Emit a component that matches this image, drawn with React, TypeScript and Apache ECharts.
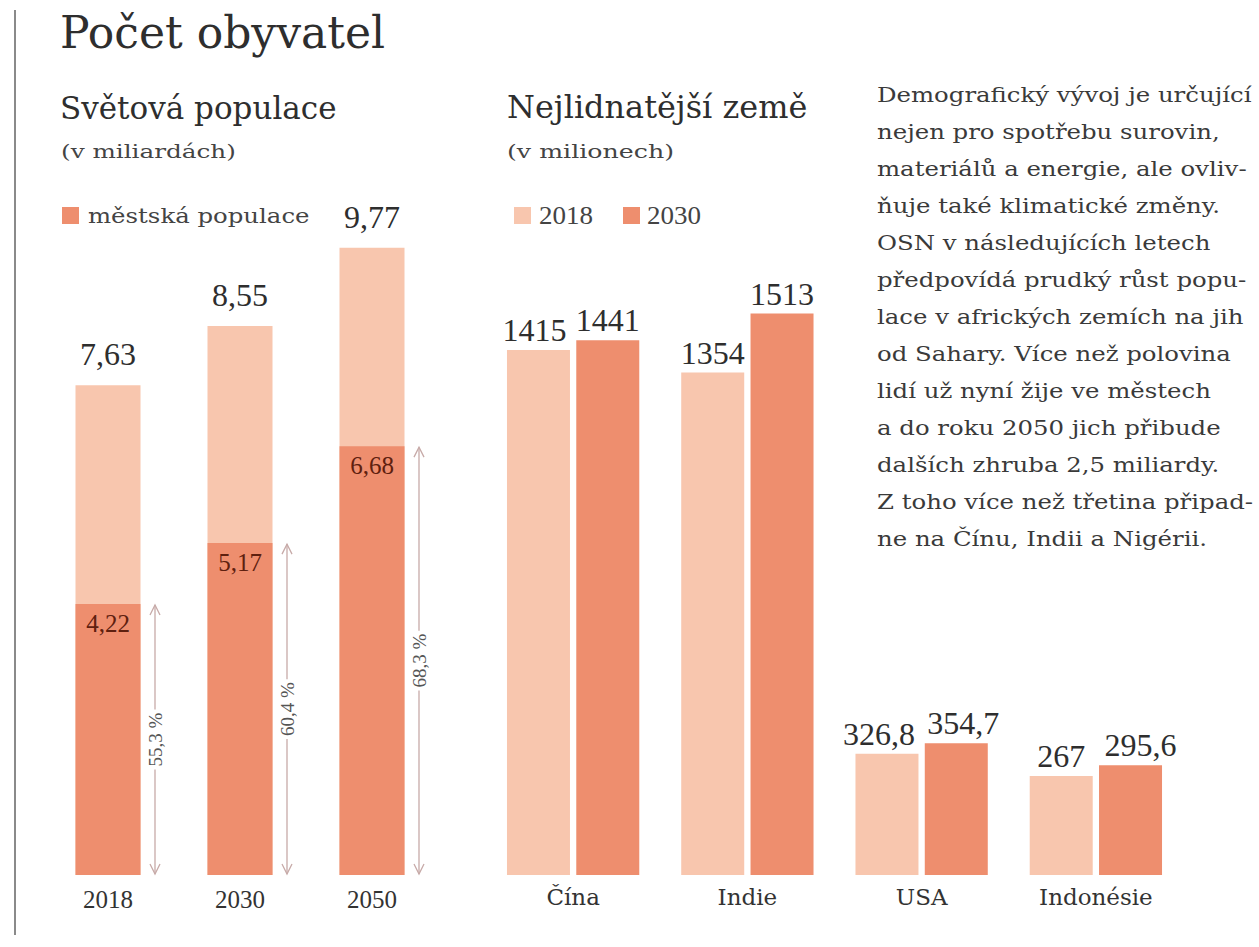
import React, { useEffect, useRef } from "react";
import * as echarts from "echarts";

const leftCategories = ["2018", "2030", "2050"];
const totalPop = [7.63, 8.55, 9.77];
const urbanPop = [4.22, 5.17, 6.68];
const urbanShare = ["55,3 %", "60,4 %", "68,3 %"];

const countries = ["Čína", "Indie", "USA", "Indonésie"];
const pop2018 = [1415, 1354, 326.8, 267];
const pop2030 = [1441, 1513, 354.7, 295.6];

const paragraph = [
  "Demografický vývoj je určující",
  "nejen pro spotřebu surovin,",
  "materiálů a energie, ale ovliv-",
  "ňuje také klimatické změny.",
  "OSN v následujících letech",
  "předpovídá prudký růst popu-",
  "lace v afrických zemích na jih",
  "od Sahary. Více než polovina",
  "lidí už nyní žije ve městech",
  "a do roku 2050 jich přibude",
  "dalších zhruba 2,5 miliardy.",
  "Z toho více než třetina připad-",
  "ne na Čínu, Indii a Nigérii.",
];

// horizontal nudges of the value labels (layout only)
const nudge2018 = [-4, 0, -8, 0];
const nudge2030 = [0, 0, 7, 10];

const FONT = "'DejaVu Serif', serif";
const NUM = "'Liberation Serif', serif";
const LIGHT = "#f8c6ae";
const DARK = "#ee8e6e";
const TEXT = "#2e2e2e";

const fmt = (v: number) => String(v).replace(".", ",");

const txt = (text: string, x: number, y: number, size: number, color: string, scaleX = 1, family = FONT) => ({
  type: "text",
  x,
  y,
  scaleX,
  style: { text, fill: color, font: `${size}px ${family}`, verticalAlign: "top", align: "left" },
});

export default function App() {
  const ref = useRef<HTMLDivElement>(null);
  useEffect(() => {
    document.body.style.margin = "0";
    document.body.style.overflow = "hidden";
    const chart = echarts.init(ref.current!, undefined, { renderer: "svg" });
    const bigLabel = {
      show: true, position: "top",
      fontFamily: NUM, fontSize: 32, color: TEXT,
      formatter: (p: any) => fmt(p.value),
    };
    const option: any = {
      animation: false,
      backgroundColor: "#ffffff",
      textStyle: { fontFamily: FONT },
      grid: [
        { left: 42, width: 396, top: 233, bottom: 72 },
        { left: 486, width: 697, top: 233, bottom: 72 },
      ],
      xAxis: [
        {
          type: "category", gridIndex: 0, data: leftCategories,
          axisLine: { show: false }, axisTick: { show: false },
          axisLabel: { margin: 12, fontFamily: NUM, fontSize: 25, color: "#333" },
        },
        {
          type: "category", gridIndex: 1, data: countries,
          axisLine: { show: false }, axisTick: { show: false },
          axisLabel: { margin: 10, fontFamily: FONT, fontSize: 23, color: "#333" },
        },
      ],
      yAxis: [
        { type: "value", gridIndex: 0, min: 0, max: 10, show: false },
        { type: "value", gridIndex: 1, min: 0, max: 1730, show: false },
      ],
      series: [
        {
          name: "celkem", type: "bar", xAxisIndex: 0, yAxisIndex: 0,
          data: totalPop, barWidth: 65, barGap: "-100%",
          itemStyle: { color: LIGHT },
          label: { ...bigLabel, distance: 15 },
        },
        {
          name: "městská populace", type: "bar", xAxisIndex: 0, yAxisIndex: 0,
          data: urbanPop, barWidth: 65, barGap: "-100%",
          itemStyle: { color: DARK },
          label: {
            show: true, position: "insideTop", distance: 7,
            fontFamily: NUM, fontSize: 25, color: "#5e200f",
            formatter: (p: any) => fmt(p.value),
          },
        },
        {
          name: "podíl", type: "custom", xAxisIndex: 0, yAxisIndex: 0,
          data: urbanPop.map((v, i) => [i, v]),
          z: 5,
          renderItem: (params: any, api: any) => {
            const i = params.dataIndex;
            const top = api.coord([api.value(0), api.value(1)]);
            const bot = api.coord([api.value(0), 0]);
            const x = top[0] + 47;
            const y1 = top[1] + 1;
            const y2 = bot[1] - 1;
            const c = "#c7aaa8";
            return {
              type: "group",
              children: [
                { type: "line", shape: { x1: x, y1, x2: x, y2 }, style: { stroke: c, lineWidth: 1.3 } },
                { type: "polyline", shape: { points: [[x - 5, y1 + 10], [x, y1], [x + 5, y1 + 10]] }, style: { stroke: c, fill: "none", lineWidth: 1.3 } },
                { type: "polyline", shape: { points: [[x - 5, y2 - 10], [x, y2], [x + 5, y2 - 10]] }, style: { stroke: c, fill: "none", lineWidth: 1.3 } },
                {
                  type: "text", x, y: (y1 + y2) / 2, rotation: Math.PI / 2,
                  style: {
                    text: urbanShare[i], fill: "#555", font: `19px ${NUM}`,
                    align: "center", verticalAlign: "middle",
                    backgroundColor: "#ffffff", padding: [1, 3],
                  },
                },
              ],
            };
          },
        },
        {
          name: "2018", type: "bar", xAxisIndex: 1, yAxisIndex: 1,
          data: pop2018.map((v, i) => ({ value: v, label: { offset: [nudge2018[i], 0] } })),
          barWidth: 63, barGap: "10%",
          itemStyle: { color: LIGHT },
          label: { ...bigLabel, distance: 4 },
        },
        {
          name: "2030", type: "bar", xAxisIndex: 1, yAxisIndex: 1,
          data: pop2030.map((v, i) => ({ value: v, label: { offset: [nudge2030[i], 0] } })),
          barWidth: 63, barGap: "10%",
          itemStyle: { color: DARK },
          label: { ...bigLabel, distance: 4 },
        },
      ],
      graphic: [
        { type: "line", shape: { x1: 15, y1: 10, x2: 15, y2: 935 }, style: { stroke: "#8a8a8a", lineWidth: 2 } },
        txt("Počet obyvatel", 60, 10, 44, TEXT),
        txt("Světová populace", 60, 92, 31, TEXT),
        txt("(v miliardách)", 61, 142, 19, "#444", 1.3),
        txt("Nejlidnatější země", 507, 92, 31, TEXT, 1.03),
        txt("(v milionech)", 507, 142, 19, "#444", 1.33),
        { type: "rect", shape: { x: 62, y: 207, width: 17, height: 17 }, style: { fill: DARK } },
        txt("městská populace", 88, 206, 20, "#444", 1.22),
        { type: "rect", shape: { x: 514, y: 207, width: 17, height: 17 }, style: { fill: LIGHT } },
        txt("2018", 539, 203, 25, "#444", 1.08, NUM),
        { type: "rect", shape: { x: 623, y: 207, width: 17, height: 17 }, style: { fill: DARK } },
        txt("2030", 647, 203, 25, "#444", 1.08, NUM),
        {
          type: "text", x: 877, y: 76, scaleX: 1.22,
          style: {
            text: paragraph.join("\n"), fill: "#3a3a3a",
            font: `20px ${FONT}`, lineHeight: 37, verticalAlign: "top", align: "left",
          },
        },
      ],
    };
    chart.setOption(option);
    return () => chart.dispose();
  }, []);
  return <div ref={ref} style={{ width: 1259, height: 947 }} />;
}
